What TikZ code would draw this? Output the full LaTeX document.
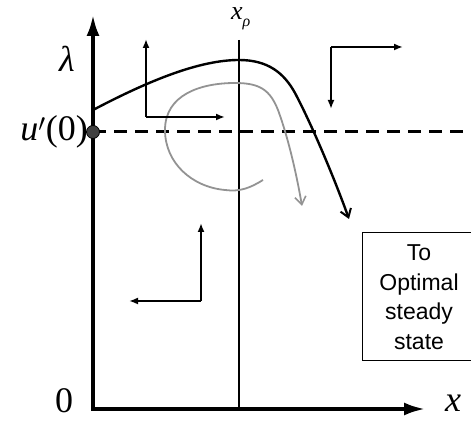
\documentclass[tikz,border=0pt]{standalone}
\usepackage{fontspec}
\setmainfont{Liberation Serif}
\newfontfamily\boxfont{Liberation Sans}
\usetikzlibrary{arrows.meta}
\begin{document}
\begin{tikzpicture}[x=1pt,y=1pt,
  axis/.style={line width=3.4pt,-{Latex[length=21pt,width=13pt]}},
  flow/.style={line width=2pt,-{Latex[length=9pt,width=7pt]}},
  traj/.style={line width=2.4pt,-{Straight Barb[length=8pt,width=11pt,line width=2pt]}},
  gtraj/.style={line width=1.8pt,draw=gray!85,-{Straight Barb[length=8pt,width=11pt,line width=1.6pt]}},
  big/.style={font=\fontsize{36}{36}\selectfont,inner sep=0pt}]
\useasboundingbox (0,0) rectangle (471,425);
% axes
\coordinate (O) at (93,16);
\coordinate (ytop) at (93,410);
\coordinate (xend) at (425,16);
\draw[axis] (O) -- (ytop);
\draw[axis] ([xshift=-1.7pt]O) -- (xend);
\node[big] (lam) at (67,366) {\textit{λ}};
\node[big,anchor=east] (u0) at (88,293) {\textit{u}$'$(0)};
\node[big] (zero) at (64,24) {0};
\node[big] (xl) at (453,22) {\textit{x}};
% x_rho line
\coordinate (xrtop) at (239,385);
\coordinate (xrbot) at (239,16);
\draw[line width=1.5pt] (xrtop) -- (xrbot);
\node[inner sep=0pt,anchor=base west] (xrl) at (231,405) {\fontsize{26}{26}\selectfont\textit{x}\raisebox{-7pt}{\fontsize{16}{16}\selectfont\textit{ρ}}};
% dashed line
\coordinate (dend) at (471,293);
\draw[line width=3pt,dash pattern=on 13pt off 8pt] (93,293) -- (dend);
\node[circle,fill=black!75,draw=black,line width=0.8pt,minimum size=13pt,inner sep=0pt] (dot) at (93,293) {};
% black trajectory
\coordinate (bs) at (93,315);
\coordinate (be) at (349,206);
\draw[traj] (bs) .. controls (150,345) and (200,365) .. (239,365)
  .. controls (268,365) and (284,352) .. (295,332)
  .. controls (312,300) and (335,245) .. (be);
% grey trajectory
\coordinate (gs) at (263,245);
\coordinate (ge) at (302,219);
\draw[gtraj] (gs) .. controls (250,237) and (240,233) .. (225,235)
  .. controls (192,238) and (165,262) .. (165,295)
  .. controls (165,330) and (200,342) .. (235,342)
  .. controls (260,342) and (270,335) .. (278,315)
  .. controls (289,285) and (297,248) .. (ge);
% flow arrows
\coordinate (c1) at (146,308);
\coordinate (c1u) at (146,386);
\coordinate (c1r) at (225,308);
\draw[flow] (c1) -- (c1u);
\draw[flow] (c1) -- (c1r);
\coordinate (c2) at (331,378);
\coordinate (c2r) at (403,378);
\coordinate (c2d) at (331,316);
\draw[flow] (c2) -- (c2r);
\draw[flow] (c2) -- (c2d);
\coordinate (c3) at (201,124);
\coordinate (c3u) at (201,202);
\coordinate (c3l) at (129,124);
\draw[flow] (c3) -- (c3u);
\draw[flow] (c3) -- (c3l);
% box
\draw[line width=0.7pt] (362,193) rectangle (474,65);
\node[font=\boxfont\fontsize{23}{29.5}\selectfont,align=center,inner sep=0pt] (box) at (419,128) {To\\Optimal\\steady\\state};
\end{tikzpicture}
\end{document}
